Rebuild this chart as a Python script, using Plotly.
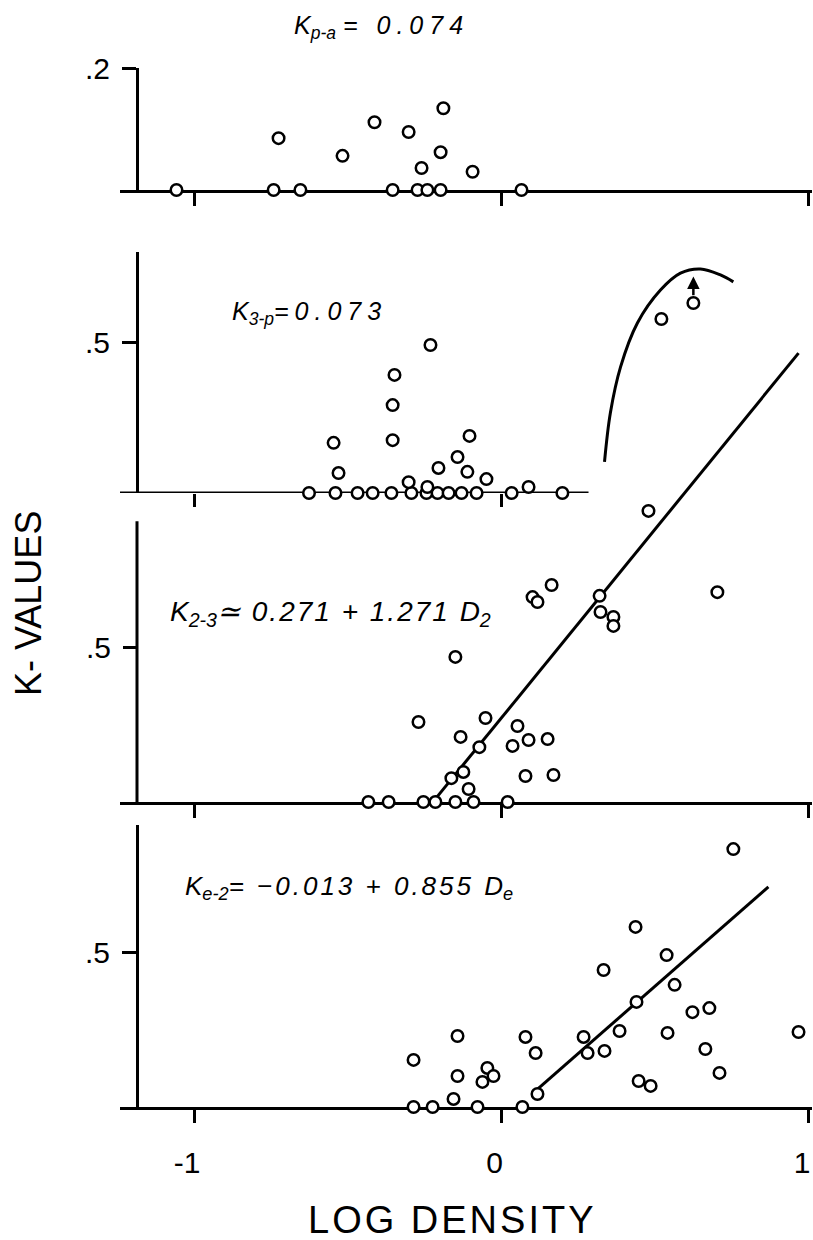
import plotly.graph_objects as go

# ---------------- data ----------------
# Panel 1: K p-a
p1_x = [-1.057, -0.741, -0.654, -0.354, -0.273, -0.241, -0.198, 0.065,
        -0.725, -0.517, -0.413, -0.302, -0.189, -0.198, -0.260, -0.094]
p1_y = [0, 0, 0, 0, 0, 0, 0, 0,
        0.085, 0.056, 0.111, 0.095, 0.134, 0.062, 0.036, 0.030]

# Panel 2: K 3-p
p2_x = [-0.626, -0.540, -0.468, -0.419, -0.358, -0.293, -0.244, -0.208, -0.172,
        -0.130, -0.081, 0.033, 0.088, 0.198,
        -0.231, -0.348, -0.354, -0.354, -0.546, -0.530, -0.104, -0.143, -0.205,
        -0.111, -0.302, -0.241, -0.049, 0.520, 0.624]
p2_y = [0, 0, 0, 0, 0, 0, 0, 0, 0, 0, 0, 0, 0.02, 0,
        0.49, 0.391, 0.291, 0.175, 0.166, 0.066, 0.189, 0.119, 0.083,
        0.070, 0.036, 0.02, 0.046, 0.576, 0.629]
p2_curve_x = [0.335, 0.354, 0.387, 0.442, 0.517, 0.582, 0.647, 0.712, 0.754]
p2_curve_y = [0.103, 0.265, 0.417, 0.563, 0.672, 0.728, 0.742, 0.722, 0.699]

# Panel 3: K 2-3
p3_x = [-0.433, -0.367, -0.254, -0.215, -0.150, -0.091, 0.020,
        -0.150, -0.270, -0.052, -0.133, -0.072, 0.052, 0.036, 0.088, 0.150,
        -0.124, -0.163, -0.107, 0.078, 0.169, 0.101, 0.117, 0.163, 0.478,
        0.319, 0.322, 0.364, 0.364, 0.702]
p3_y = [0, 0, 0, 0, 0, 0, 0,
        0.468, 0.258, 0.271, 0.210, 0.177, 0.245, 0.181, 0.200, 0.203,
        0.097, 0.077, 0.042, 0.084, 0.087, 0.661, 0.645, 0.700, 0.939,
        0.665, 0.613, 0.597, 0.568, 0.677]
p3_line_x = [-0.215, 0.966]
p3_line_y = [0.01, 1.448]

# Panel 4: K e-2
p4_x = [-0.286, -0.224, -0.156, -0.078, 0.068,
        -0.286, -0.143, -0.143, -0.046, -0.026, -0.062, 0.078, 0.111, 0.117,
        0.267, 0.280, 0.335, 0.384, 0.332, 0.436, 0.439, 0.537, 0.563, 0.540,
        0.446, 0.485, 0.621, 0.676, 0.663, 0.709, 0.754, 0.966]
p4_y = [0, 0, 0.026, 0, 0,
        0.152, 0.229, 0.100, 0.126, 0.100, 0.081, 0.226, 0.174, 0.042,
        0.226, 0.174, 0.181, 0.245, 0.442, 0.581, 0.339, 0.490, 0.394, 0.239,
        0.084, 0.068, 0.306, 0.319, 0.187, 0.110, 0.832, 0.242]
p4_line_x = [0.12, 0.868]
p4_line_y = [0.06, 0.71]

x_ticks = [-1, 0, 1]
x_ticktext = ["-1", "0", "1"]

# ---------------- layout helpers ----------------
W, H = 813, 1240
FONT = "Liberation Sans, Arial, sans-serif"
X_RANGE = [-1.2407, 1.0098]
X_DOM = [120 / W, 812 / W]
Y_POS = 137 / W


def ydom(bottom_px, top_px):
    return [1 - bottom_px / H, 1 - top_px / H]


def spaced(s, px):
    return '<span style="letter-spacing:%dpx">%s</span>' % (px, s)


fig = go.Figure()

mk = dict(symbol="circle", size=11.5, color="white", line=dict(color="black", width=2.5))
ln = dict(color="black", width=3)

# lines first (under markers)
fig.add_trace(go.Scatter(x=p2_curve_x, y=p2_curve_y, mode="lines", line=dict(shape="spline", **ln),
                         xaxis="x2", yaxis="y2", hoverinfo="skip"))
fig.add_trace(go.Scatter(x=p3_line_x, y=p3_line_y, mode="lines", line=ln,
                         xaxis="x3", yaxis="y3", hoverinfo="skip"))
fig.add_trace(go.Scatter(x=p4_line_x, y=p4_line_y, mode="lines", line=ln,
                         xaxis="x4", yaxis="y4", hoverinfo="skip"))

for xs, ys, i in [(p1_x, p1_y, ""), (p2_x, p2_y, "2"), (p3_x, p3_y, "3"), (p4_x, p4_y, "4")]:
    fig.add_trace(go.Scatter(x=xs, y=ys, mode="markers", marker=mk, cliponaxis=False,
                             xaxis="x" + i, yaxis="y" + i))

common_x = dict(range=X_RANGE, domain=X_DOM, tickvals=x_ticks, ticktext=x_ticktext,
                ticks="outside", ticklen=13, tickwidth=3, tickcolor="black",
                showticklabels=False, showline=True, linewidth=3, linecolor="black",
                showgrid=False, zeroline=False, layer="below traces", fixedrange=True,
                automargin=False)
common_y = dict(anchor="free", position=Y_POS, ticks="outside", ticklen=14, tickwidth=3,
                tickcolor="black", showline=True, linewidth=3, linecolor="black",
                showgrid=False, zeroline=False, layer="below traces", automargin=False,
                tickfont=dict(family=FONT, size=30, color="black"), ticklabelstandoff=6)

fig.update_layout(
    width=W, height=H, margin=dict(l=0, r=0, t=0, b=0, pad=0, autoexpand=False),
    paper_bgcolor="white", plot_bgcolor="rgba(0,0,0,0)", showlegend=False,
    xaxis=dict(anchor="y", **common_x),
    xaxis2=dict(anchor="y2", **{**common_x, "showline": False, "tickvals": [-1, 0]}),
    xaxis3=dict(anchor="y3", **common_x),
    xaxis4=dict(anchor="y4", **{**common_x, "showticklabels": True},
                tickfont=dict(family=FONT, size=30, color="black"), ticklabelstandoff=14,
                ticklabelshift=-7, ticklabeloverflow="allow"),
    yaxis=dict(domain=ydom(190, 68), range=[0, 0.2], tickvals=[0.2], ticktext=[".2"], **common_y),
    yaxis2=dict(domain=ydom(493, 252), range=[0, 241 / 302], tickvals=[0.5], ticktext=[".5"], **common_y),
    yaxis3=dict(domain=ydom(802, 340), range=[0, 462 / 310], tickvals=[0.5], ticktext=[".5"],
                **{**common_y, "showline": False}),
    yaxis4=dict(domain=ydom(1107, 825), range=[0, 282 / 310], tickvals=[0.5], ticktext=[".5"], **common_y),
)

# panel-2 baseline (stops short of the right edge) and panel-3 axis line
fig.add_shape(type="line", xref="x2", yref="y2", x0=X_RANGE[0], x1=0.283, y0=0, y1=0,
              line=dict(color="black", width=3), layer="below")
fig.add_shape(type="line", xref="paper", yref="y3", x0=Y_POS, x1=Y_POS, y0=0, y1=0.906,
              line=dict(color="black", width=3), layer="below")

# arrow above the top point in panel 2
fig.add_annotation(x=0.624, y=0.717, ax=0.624, ay=0.650, xref="x2", yref="y2",
                   axref="x2", ayref="y2", text="", showarrow=True, arrowhead=2,
                   arrowsize=1, arrowwidth=2.5, arrowcolor="black")

ann_font = dict(family=FONT, color="black")
fig.add_annotation(xref="paper", yref="paper", x=292 / W, y=1 - 27 / H, xanchor="left", yanchor="middle",
                   text="<i>K<sub>p-a</sub> " + spaced("= 0.074", 6) + "</i>", showarrow=False,
                   font=dict(size=25, **ann_font))
fig.add_annotation(xref="paper", yref="paper", x=230 / W, y=1 - 313 / H, xanchor="left", yanchor="middle",
                   text="<i>K<sub>3-p</sub>" + spaced("=0.073", 6) + "</i>", showarrow=False,
                   font=dict(size=25, **ann_font))
fig.add_annotation(xref="paper", yref="paper", x=168 / W, y=1 - 613 / H, xanchor="left", yanchor="middle",
                   text="<i>K<sub>2-3</sub>" + spaced("≃ 0.271 + 1.271 ", 2) + "D<sub>2</sub></i>",
                   showarrow=False, font=dict(size=28, **ann_font))
fig.add_annotation(xref="paper", yref="paper", x=183 / W, y=1 - 887 / H, xanchor="left", yanchor="middle",
                   text="<i>K<sub>e-2</sub>" + spaced("= −0.013 + 0.855 ", 3) + "D<sub>e</sub></i>",
                   showarrow=False, font=dict(size=26, **ann_font))

fig.add_annotation(xref="paper", yref="paper", x=28 / W, y=1 - 604 / H, xanchor="center",
                   yanchor="middle", textangle=-90,
                   text="K- VALUES", showarrow=False, font=dict(size=36, **ann_font))
fig.add_annotation(xref="paper", yref="paper", x=452 / W, y=1 - 1220 / H, xanchor="center",
                   yanchor="middle",
                   text=spaced("LOG DENSITY", 3), showarrow=False, font=dict(size=38, **ann_font))

fig.write_html("out.html")
